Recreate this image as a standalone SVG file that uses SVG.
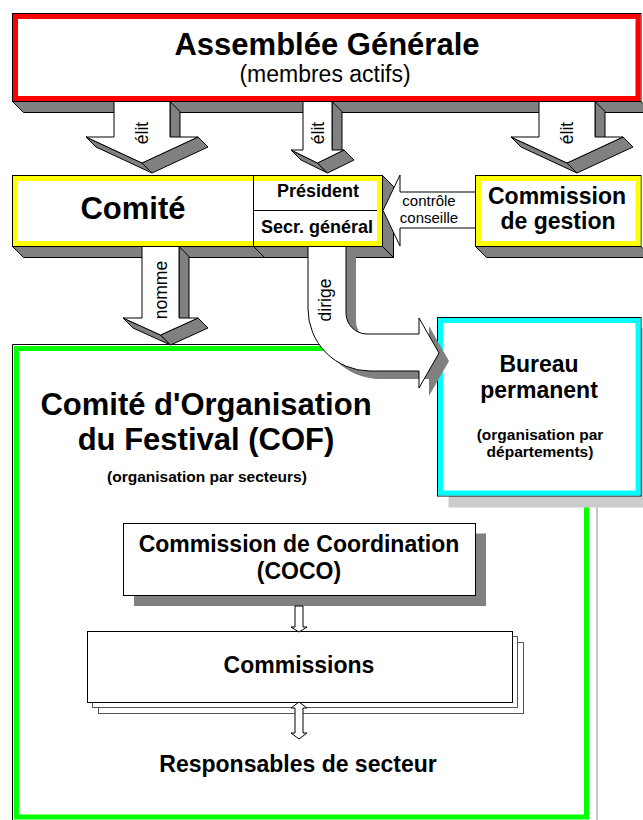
<svg xmlns="http://www.w3.org/2000/svg" width="643" height="820" viewBox="0 0 643 820">
<style>
text{font-family:"Liberation Sans",Arial,Helvetica,sans-serif;fill:#000;text-anchor:middle}
.b{font-weight:bold}
.t31{font-size:31px}
.t23{font-size:23px}
.t18{font-size:18px}
.t15{font-size:15.5px}
.lbl{font-size:17.5px}
.ol{fill:#fff;stroke:#000;stroke-width:1}
.ex{fill:#808080;stroke:#000;stroke-width:1;stroke-linejoin:miter}
.sh{fill:#808080}
.lsh{fill:#cccccc}
.face{fill:#fff;stroke:#000;stroke-width:1;stroke-linejoin:miter}
.red{fill:none;stroke:#ff0000;stroke-width:5}
.yel{fill:none;stroke:#ffff00;stroke-width:5}
.cyan{fill:none;stroke:#00ffff;stroke-width:5}
.green{fill:none;stroke:#00ff00;stroke-width:5}
.ln{fill:none;stroke:#000;stroke-width:1}
</style>

<!-- COF background box -->
<g id="cof">
  <rect x="16.5" y="348.5" width="570" height="468.5" class="green"/>
  <polyline points="12.5,820 12.5,344.5 589,344.5" class="ln"/>
  <line x1="597" y1="507" x2="597" y2="820" stroke="#c8c8c8" stroke-width="2"/>
  <text class="b t31" x="206" y="415">Comité d'Organisation</text>
  <text class="b t31" x="206" y="450">du Festival (COF)</text>
  <text class="b t15" x="207" y="482">(organisation par secteurs)</text>
</g>

<!-- Bureau permanent -->
<g id="bureau">
  <rect x="448.5" y="328" width="204" height="179.5" class="lsh"/>
  <rect x="437.5" y="317.5" width="203.5" height="178.5" class="ol"/>
  <rect x="440.5" y="320.5" width="197.5" height="172.5" class="cyan"/>
  <text class="b t23" x="539" y="372">Bureau</text>
  <text class="b t23" x="539" y="398">permanent</text>
  <text class="b t15" x="540" y="440">(organisation par</text>
  <text class="b t15" x="540" y="457">départements)</text>
</g>

<!-- Assemblée Générale -->
<g id="assemblee">
  <polygon points="12.5,101.5 641,101.5 652,112.5 23.5,112.5" class="ex"/>
  <rect x="12.5" y="13.5" width="628.5" height="88" class="ol"/>
  <rect x="15.5" y="16.5" width="622.5" height="82" class="red"/>
  <text class="b t31" x="327" y="55">Assemblée Générale</text>
  <text style="font-size:23px" x="325" y="82">(membres actifs)</text>
</g>

<!-- Comité with Président / Secr. général -->
<g id="comite">
  <polygon points="12.5,246.5 382.5,246.5 393.5,257.5 23.5,257.5" class="ex"/>
  <polygon points="382.5,175.5 393.5,186.5 393.5,257.5 382.5,246.5" class="ex"/>
  <line x1="253.5" y1="246.5" x2="264.5" y2="257.5" class="ln"/>
  <rect x="12.5" y="175.5" width="370" height="71" class="ol"/>
  <rect x="15.5" y="178.5" width="364" height="65" class="yel"/>
  <line x1="253.5" y1="175.5" x2="253.5" y2="246.5" class="ln"/>
  <line x1="253.5" y1="210.5" x2="377" y2="210.5" class="ln"/>
  <text class="b t31" x="133" y="219">Comité</text>
  <text class="b t18" x="318" y="197">Président</text>
  <text class="b t18" x="317" y="233">Secr. général</text>
</g>

<!-- Commission de gestion -->
<g id="commission-gestion">
  <polygon points="475.5,246.5 641,246.5 652,257.5 486.5,257.5" class="ex"/>
  <rect x="475.5" y="175.5" width="165.5" height="71" class="ol"/>
  <rect x="478.5" y="178.5" width="159.5" height="65" class="yel"/>
  <text class="b t23" x="557" y="204">Commission</text>
  <text class="b t23" x="558" y="229">de gestion</text>
</g>

<!-- COCO -->
<g id="coco">
  <rect x="134" y="533.5" width="352" height="72.5" class="sh"/>
  <rect x="123.5" y="523.5" width="352" height="72" class="ol"/>
  <text class="b t23" x="299" y="552">Commission de Coordination</text>
  <text class="b t23" x="299" y="579">(COCO)</text>
</g>

<!-- Commissions (stack) -->
<g id="commissions">
  <rect x="98.5" y="642.5" width="425" height="71" fill="#fff" stroke="#555" stroke-width="1"/>
  <rect x="92.5" y="636.5" width="425" height="71" fill="#fff" stroke="#555" stroke-width="1"/>
  <rect x="87.5" y="631.5" width="425" height="71" class="ol"/>
  <text class="b t23" x="299" y="673">Commissions</text>
</g>

<!-- Responsables de secteur -->
<g id="responsables">
  <text class="b t23" x="298" y="772">Responsables de secteur</text>
</g>

<!-- Connectors -->
<g id="connectors">
  <!-- élit 1 -->
  <polygon points="170,101.5 180,111.5 180,147 170,137" class="ex"/>
  <polygon points="86,137 142,163 152,173 96,147" class="ex"/>
  <polygon points="198,137 142,163 152,173 208,147" class="ex"/>
  <polygon points="114,101.5 170,101.5 170,137 198,137 142,163 86,137 114,137" class="face"/>
  <text class="lbl" transform="translate(148,133) rotate(-90)">élit</text>

  <!-- élit 2 -->
  <polygon points="332,101.5 342,111.5 342,160 332,150" class="ex"/>
  <polygon points="291,150 317.5,163 327.5,173 301,160" class="ex"/>
  <polygon points="344,150 317.5,163 327.5,173 354,160" class="ex"/>
  <polygon points="303,101.5 332,101.5 332,150 344,150 317.5,163 291,150 303,150" class="face"/>
  <text class="lbl" transform="translate(323.5,133) rotate(-90)">élit</text>

  <!-- élit 3 -->
  <polygon points="595,101.5 605,111.5 605,147 595,137" class="ex"/>
  <polygon points="511,137 567,163 577,173 521,147" class="ex"/>
  <polygon points="623,137 567,163 577,173 633,147" class="ex"/>
  <polygon points="539,101.5 595,101.5 595,137 623,137 567,163 511,137 539,137" class="face"/>
  <text class="lbl" transform="translate(573,133) rotate(-90)">élit</text>

  <!-- nomme -->
  <polygon points="179,246.5 189,256.5 189,328 179,318" class="ex"/>
  <polygon points="123,318 160.5,335 170.5,345 133,328" class="ex"/>
  <polygon points="198,318 160.5,335 170.5,345 208,328" class="ex"/>
  <polygon points="142,246.5 179,246.5 179,318 198,318 160.5,335 123,318 142,318" class="face"/>
  <text class="lbl" transform="translate(166.5,290) rotate(-90)">nomme</text>

  <!-- dirige -->
  <path d="M318,254.5 L318,317 A62,62 0 0 0 380,379 L429,379 L429,396 L449,361 L429,326 L429,342 L377,342 A21,21 0 0 1 356,321 L356,254.5 Z" class="sh"/>
  <path d="M308,246.5 L308,309 A62,62 0 0 0 370,371 L419,371 L419,388 L439,353 L419,318 L419,334 L367,334 A21,21 0 0 1 346,313 L346,246.5 Z" class="face"/>
  <text class="lbl" transform="translate(331,300) rotate(-90)">dirige</text>

  <!-- contrôle conseille -->
  <polygon points="475.5,192 400,192 400,175 383,210.5 400,246 400,228 475.5,228" class="face"/>
  <text style="font-size:15px" x="429" y="206">contrôle</text>
  <text style="font-size:15px" x="429" y="223">conseille</text>

  <!-- COCO -> Commissions -->
  <polygon points="295,606 303,606 303,627 307,627 299,632 291,627 295,627" class="face"/>

  <!-- Commissions <-> Responsables -->
  <polygon points="299,702 307,708 303,708 303,733 307,733 299,739 291,733 295,733 295,708 291,708" class="face"/>
</g>
</svg>
